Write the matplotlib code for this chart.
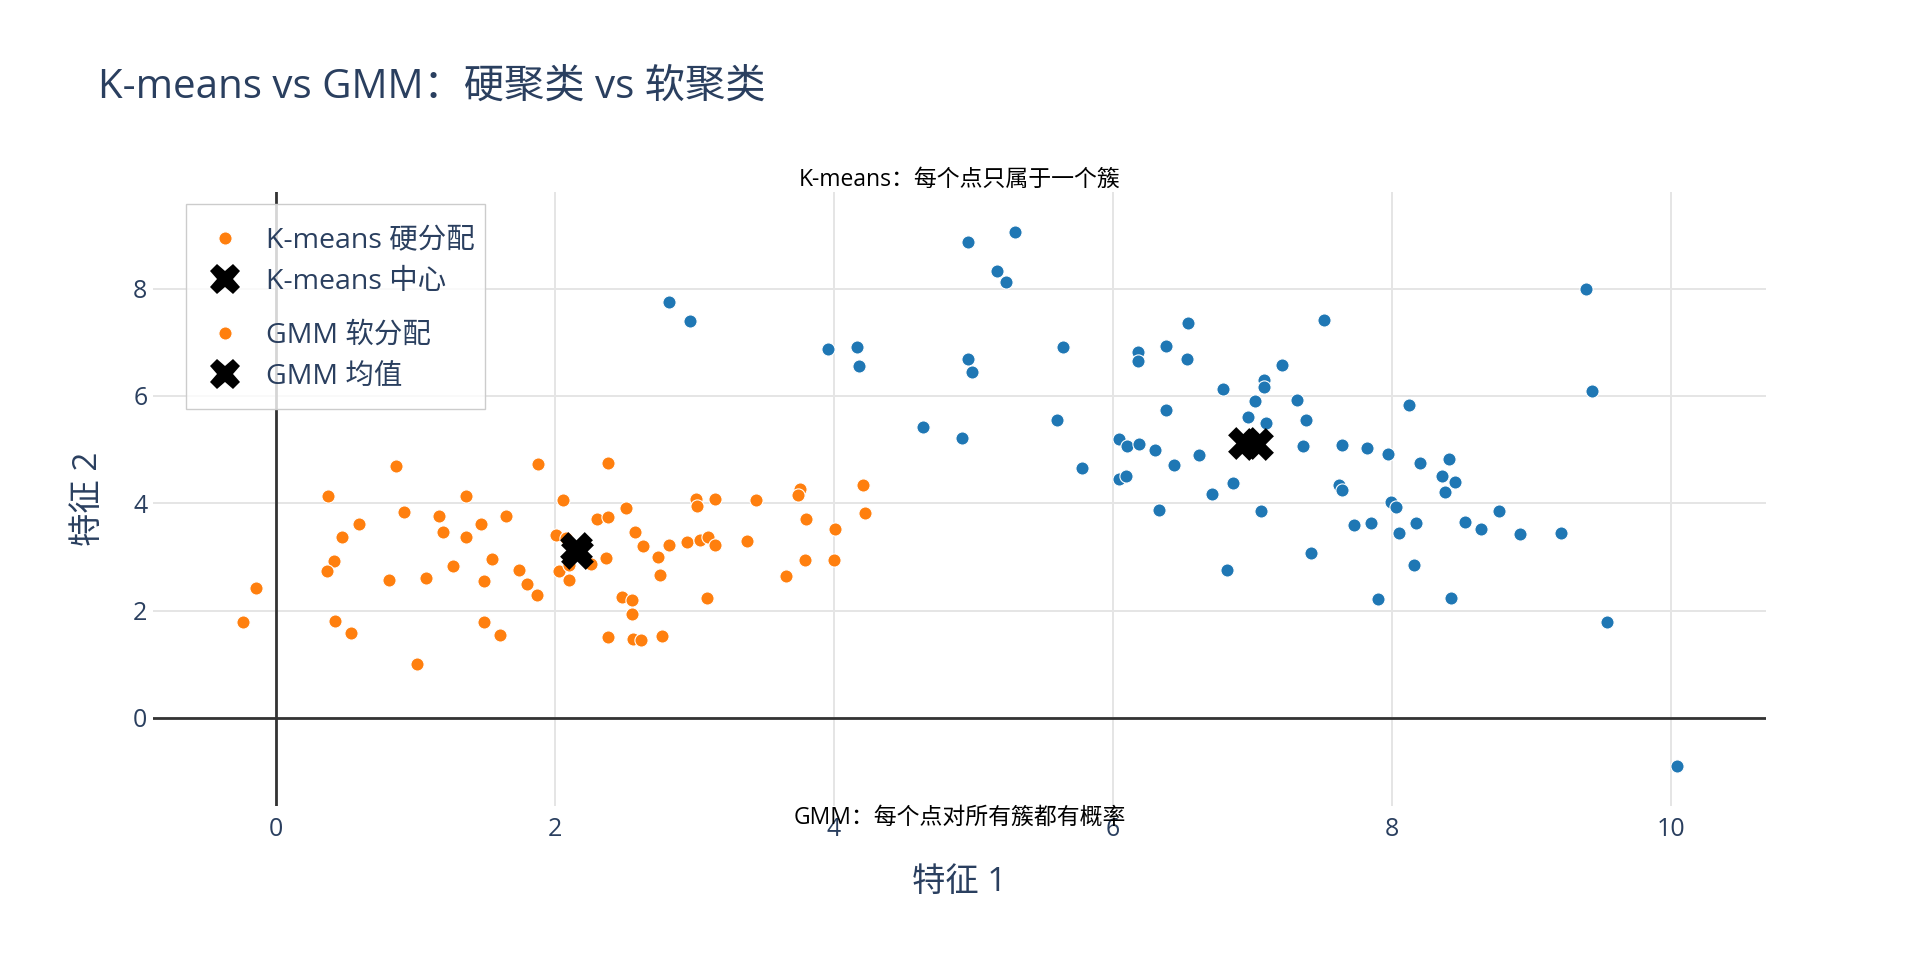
import matplotlib
matplotlib.use("Agg")
import matplotlib.pyplot as plt
from matplotlib.lines import Line2D
from matplotlib.patches import Rectangle

plt.rcParams["font.family"] = ["Open Sans", "Noto Sans CJK SC", "DejaVu Sans"]

# cluster A (orange) and cluster B (blue)
orange_x = [0.86, 1.88, 0.375, 1.36, 2.06, 0.92, 1.17, 1.65, 0.595, 1.47, 0.478, 1.195,
            1.36, 2.005, 2.08, 0.416, 0.366, -0.143, 0.81, 1.08, 1.27, 1.55, 1.49, 1.74,
            1.80, 1.87, 2.03, 2.10, -0.232, 0.425, 0.538, 1.49, 1.61, 1.01, 2.38, 2.51,
            3.01, 3.02, 3.15, 3.44, 3.76, 3.74, 4.21, 4.22, 2.30, 2.38, 3.80, 4.01,
            2.576, 2.63, 2.74, 2.82, 2.95, 3.04, 3.10, 3.15, 3.38, 2.37, 2.26, 2.10,
            2.75, 3.79, 4.00, 3.66, 2.48, 2.55, 2.55, 3.09, 2.38, 2.56, 2.62, 2.77]
orange_y = [4.70, 4.73, 4.14, 4.14, 4.07, 3.83, 3.76, 3.76, 3.62, 3.62, 3.38, 3.46,
            3.37, 3.40, 3.35, 2.93, 2.73, 2.43, 2.58, 2.60, 2.84, 2.97, 2.55, 2.76,
            2.50, 2.29, 2.73, 2.57, 1.79, 1.81, 1.58, 1.79, 1.55, 1.01, 4.75, 3.92,
            4.08, 3.95, 4.08, 4.07, 4.27, 4.15, 4.34, 3.82, 3.71, 3.74, 3.70, 3.53,
            3.46, 3.21, 3.00, 3.22, 3.27, 3.32, 3.38, 3.22, 3.30, 2.99, 2.86, 2.85,
            2.67, 2.94, 2.94, 2.64, 2.26, 2.20, 1.94, 2.24, 1.51, 1.47, 1.46, 1.53]

blue_x = [2.82, 2.97, 3.96, 4.165, 4.18, 4.64, 4.92, 4.96, 5.30, 5.17, 5.23, 4.96,
          4.99, 5.64, 6.54, 7.51, 6.18, 6.18, 6.38, 6.53, 7.21, 7.08, 7.08, 6.79,
          7.02, 7.32, 6.97, 7.10, 7.38, 6.38, 5.60, 5.78, 6.04, 6.10, 6.19, 6.30,
          6.44, 6.62, 7.36, 7.64, 6.04, 6.09, 6.86, 6.71, 7.62, 7.64, 6.33, 7.06,
          7.73, 7.42, 6.82, 9.39, 9.43, 8.12, 7.82, 7.97, 8.20, 8.41, 8.36, 8.45,
          8.38, 7.99, 8.03, 7.85, 8.05, 8.17, 8.52, 8.64, 8.77, 8.92, 9.21, 8.16,
          7.90, 8.42, 9.54, 10.04]
blue_y = [7.75, 7.40, 6.87, 6.91, 6.55, 5.43, 5.22, 8.87, 9.06, 8.32, 8.12, 6.68,
          6.44, 6.91, 7.36, 7.41, 6.81, 6.65, 6.93, 6.68, 6.57, 6.30, 6.16, 6.13,
          5.90, 5.92, 5.60, 5.49, 5.56, 5.73, 5.55, 4.65, 5.20, 5.07, 5.11, 4.99,
          4.71, 4.90, 5.06, 5.08, 4.45, 4.50, 4.38, 4.17, 4.35, 4.25, 3.88, 3.85,
          3.60, 3.08, 2.76, 8.00, 6.09, 5.83, 5.03, 4.91, 4.75, 4.83, 4.51, 4.39,
          4.21, 4.02, 3.94, 3.64, 3.45, 3.64, 3.65, 3.52, 3.85, 3.42, 3.45, 2.85,
          2.22, 2.24, 1.78, -0.89]

kmeans_cx = [2.15, 6.94]
kmeans_cy = [3.16, 5.13]
gmm_mx = [2.16, 7.03]
gmm_my = [3.07, 5.11]

ORANGE = "#ff7f0e"
BLUE = "#1f77b4"
TEXT = "#2a3f5f"

fig = plt.figure(figsize=(19.2, 9.6), dpi=100)
ax = fig.add_axes([153 / 1920, 1 - 806 / 960, (1766 - 153) / 1920, (806 - 192) / 960])

dot_kw = dict(s=90, edgecolors="white", linewidths=0.8, zorder=3)
ax.scatter(orange_x, orange_y, color=ORANGE, **dot_kw)
ax.scatter(blue_x, blue_y, color=BLUE, **dot_kw)
ax.scatter(kmeans_cx, kmeans_cy, marker="X", s=560, color="black", linewidths=0, zorder=4)
ax.scatter(gmm_mx, gmm_my, marker="X", s=560, color="black", linewidths=0, zorder=4)

ax.set_xlim(-0.88, 10.68)
ax.set_ylim(-1.64, 9.80)
ax.set_xticks(range(0, 11, 2))
ax.set_yticks(range(0, 9, 2))
for s in ax.spines.values():
    s.set_visible(False)
ax.grid(True, color="#e5e5e5", linewidth=1.4)
ax.set_axisbelow(True)
ax.axhline(0, color="#333333", linewidth=2.0, zorder=2)
ax.axvline(0, color="#333333", linewidth=2.0, zorder=2)
ax.tick_params(length=0, labelsize=18, labelcolor=TEXT)
ax.tick_params(axis="x", pad=8)
ax.tick_params(axis="y", pad=4)
ax.set_xlabel("特征 1", fontsize=24, color=TEXT, labelpad=17)
ax.set_ylabel("特征 2", fontsize=24, color=TEXT, labelpad=20)

fig.text(98 / 1920, 1 - 87 / 960, "K-means vs GMM：硬聚类 vs 软聚类", fontsize=29,
         color=TEXT, ha="left", va="center")
fig.text(0.5 * (153 + 1766) / 1920, 1 - 180 / 960, "K-means：每个点只属于一个簇",
         fontsize=16.5, color="black", ha="center", va="center")
fig.text(0.5 * (153 + 1766) / 1920, 1 - 818 / 960, "GMM：每个点对所有簇都有概率",
         fontsize=16.5, color="black", ha="center", va="center", zorder=5)

# legend: frame plus two groups
frame = Rectangle((186 / 1920, 1 - 409 / 960), (485 - 186) / 1920, (409 - 204) / 960,
                  transform=fig.transFigure, facecolor=(1, 1, 1, 0.8),
                  edgecolor="#cccccc", linewidth=1.0, zorder=5)
fig.add_artist(frame)


def _handles(dot_label, x_label):
    return [
        Line2D([], [], linestyle="none", marker="o", markersize=9.5, color=ORANGE,
               markeredgecolor="white", markeredgewidth=0.8, label=dot_label),
        Line2D([], [], linestyle="none", marker="X", markersize=22, color="black",
               markeredgewidth=0, label=x_label),
    ]


leg_kw = dict(frameon=False, fontsize=20.5, labelcolor=TEXT, handlelength=1.2,
              handletextpad=0.85, labelspacing=0.45, borderaxespad=0, borderpad=0,
              loc="upper left")
leg1 = fig.legend(handles=_handles("K-means 硬分配", "K-means 中心"),
                  bbox_to_anchor=(208 / 1920, 1 - 227 / 960), **leg_kw)
leg2 = fig.legend(handles=_handles("GMM 软分配", "GMM 均值"),
                  bbox_to_anchor=(208 / 1920, 1 - 322 / 960), **leg_kw)
leg1.set_zorder(6)
leg2.set_zorder(6)

fig.savefig("out.png", dpi=100)
